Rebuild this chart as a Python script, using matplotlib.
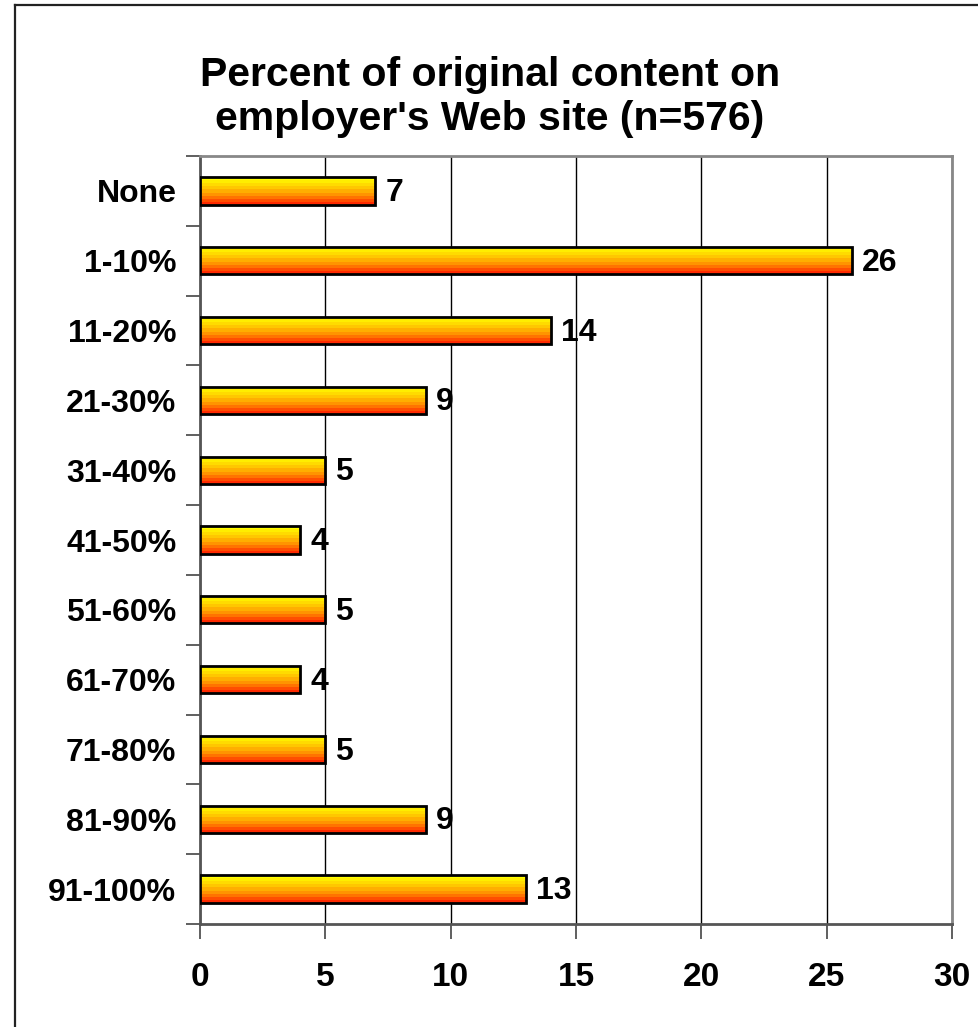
import numpy as np
import matplotlib
matplotlib.use('Agg')
import matplotlib.pyplot as plt
from matplotlib.colors import LinearSegmentedColormap
from matplotlib.lines import Line2D

plt.rcParams['font.family'] = ['Liberation Sans', 'DejaVu Sans']

categories = ['None', '1-10%', '11-20%', '21-30%', '31-40%', '41-50%',
              '51-60%', '61-70%', '71-80%', '81-90%', '91-100%']
values = [7, 26, 14, 9, 5, 4, 5, 4, 5, 9, 13]
xticks = [0, 5, 10, 15, 20, 25, 30]
title = "Percent of original content on\nemployer's Web site (n=576)"

W, H = 979, 1027
fig = plt.figure(figsize=(W / 100, H / 100), dpi=100)
ax = fig.add_axes([200 / W, 1 - 924 / H, 752 / W, 768 / H])

# outer frame (left and top only visible)
fig.add_artist(Line2D([15 / W, 15 / W], [0, 1 - 5 / H], color='#222222', lw=1.6))
fig.add_artist(Line2D([15 / W, 1], [1 - 5 / H, 1 - 5 / H], color='#222222', lw=1.6))

n = len(categories)
ypos = np.arange(n)
bar_h = 0.39

# yellow (top) -> red (bottom) gradient in bands
cmap = LinearSegmentedColormap.from_list('yr', ['#ffff00', '#ffd000', '#ff8c00', '#ff2a00'], N=9)
grad = np.linspace(0, 1, 9).reshape(-1, 1)

bars = ax.barh(ypos, values, height=bar_h, color='none', edgecolor='black', lw=2, zorder=4)
for b, v in zip(bars, values):
    y0 = b.get_y()
    im = ax.imshow(grad, cmap=cmap, aspect='auto', interpolation='nearest',
                   extent=[0, v, y0 + bar_h, y0], origin='upper', zorder=3)
    im.set_clip_path(b)
    ax.text(v + 0.4, b.get_y() + bar_h / 2 + 0.03, str(v), va='center', ha='left',
            fontsize=23, fontweight='bold', zorder=5)

ax.set_xlim(0, 30)
ax.set_ylim(n - 0.5, -0.5)
ax.set_xticks(xticks)
ax.set_xticklabels([str(t) for t in xticks], fontsize=24, fontweight='bold')
ax.set_yticks(ypos)
ax.set_yticklabels(categories, fontsize=23, fontweight='bold')
ax.set_yticks(np.arange(n + 1) - 0.5, minor=True)
ax.tick_params(axis='y', which='major', length=0, pad=17)
ax.tick_params(axis='y', which='minor', length=10, width=1.2, color='#444444')
ax.tick_params(axis='x', length=11, width=1.2, color='#444444', pad=16)

ax.xaxis.grid(True, color='black', lw=1)
ax.set_axisbelow(True)
for s in ['top', 'right']:
    ax.spines[s].set_color('#888888')
    ax.spines[s].set_linewidth(2)
for s in ['left', 'bottom']:
    ax.spines[s].set_color('#555555')
    ax.spines[s].set_linewidth(2)

fig.text(490 / W, 1 - 97 / H, title, ha='center', va='center',
         fontsize=29.5, fontweight='bold', linespacing=1.2)

plt.savefig('out.png', dpi=100)
